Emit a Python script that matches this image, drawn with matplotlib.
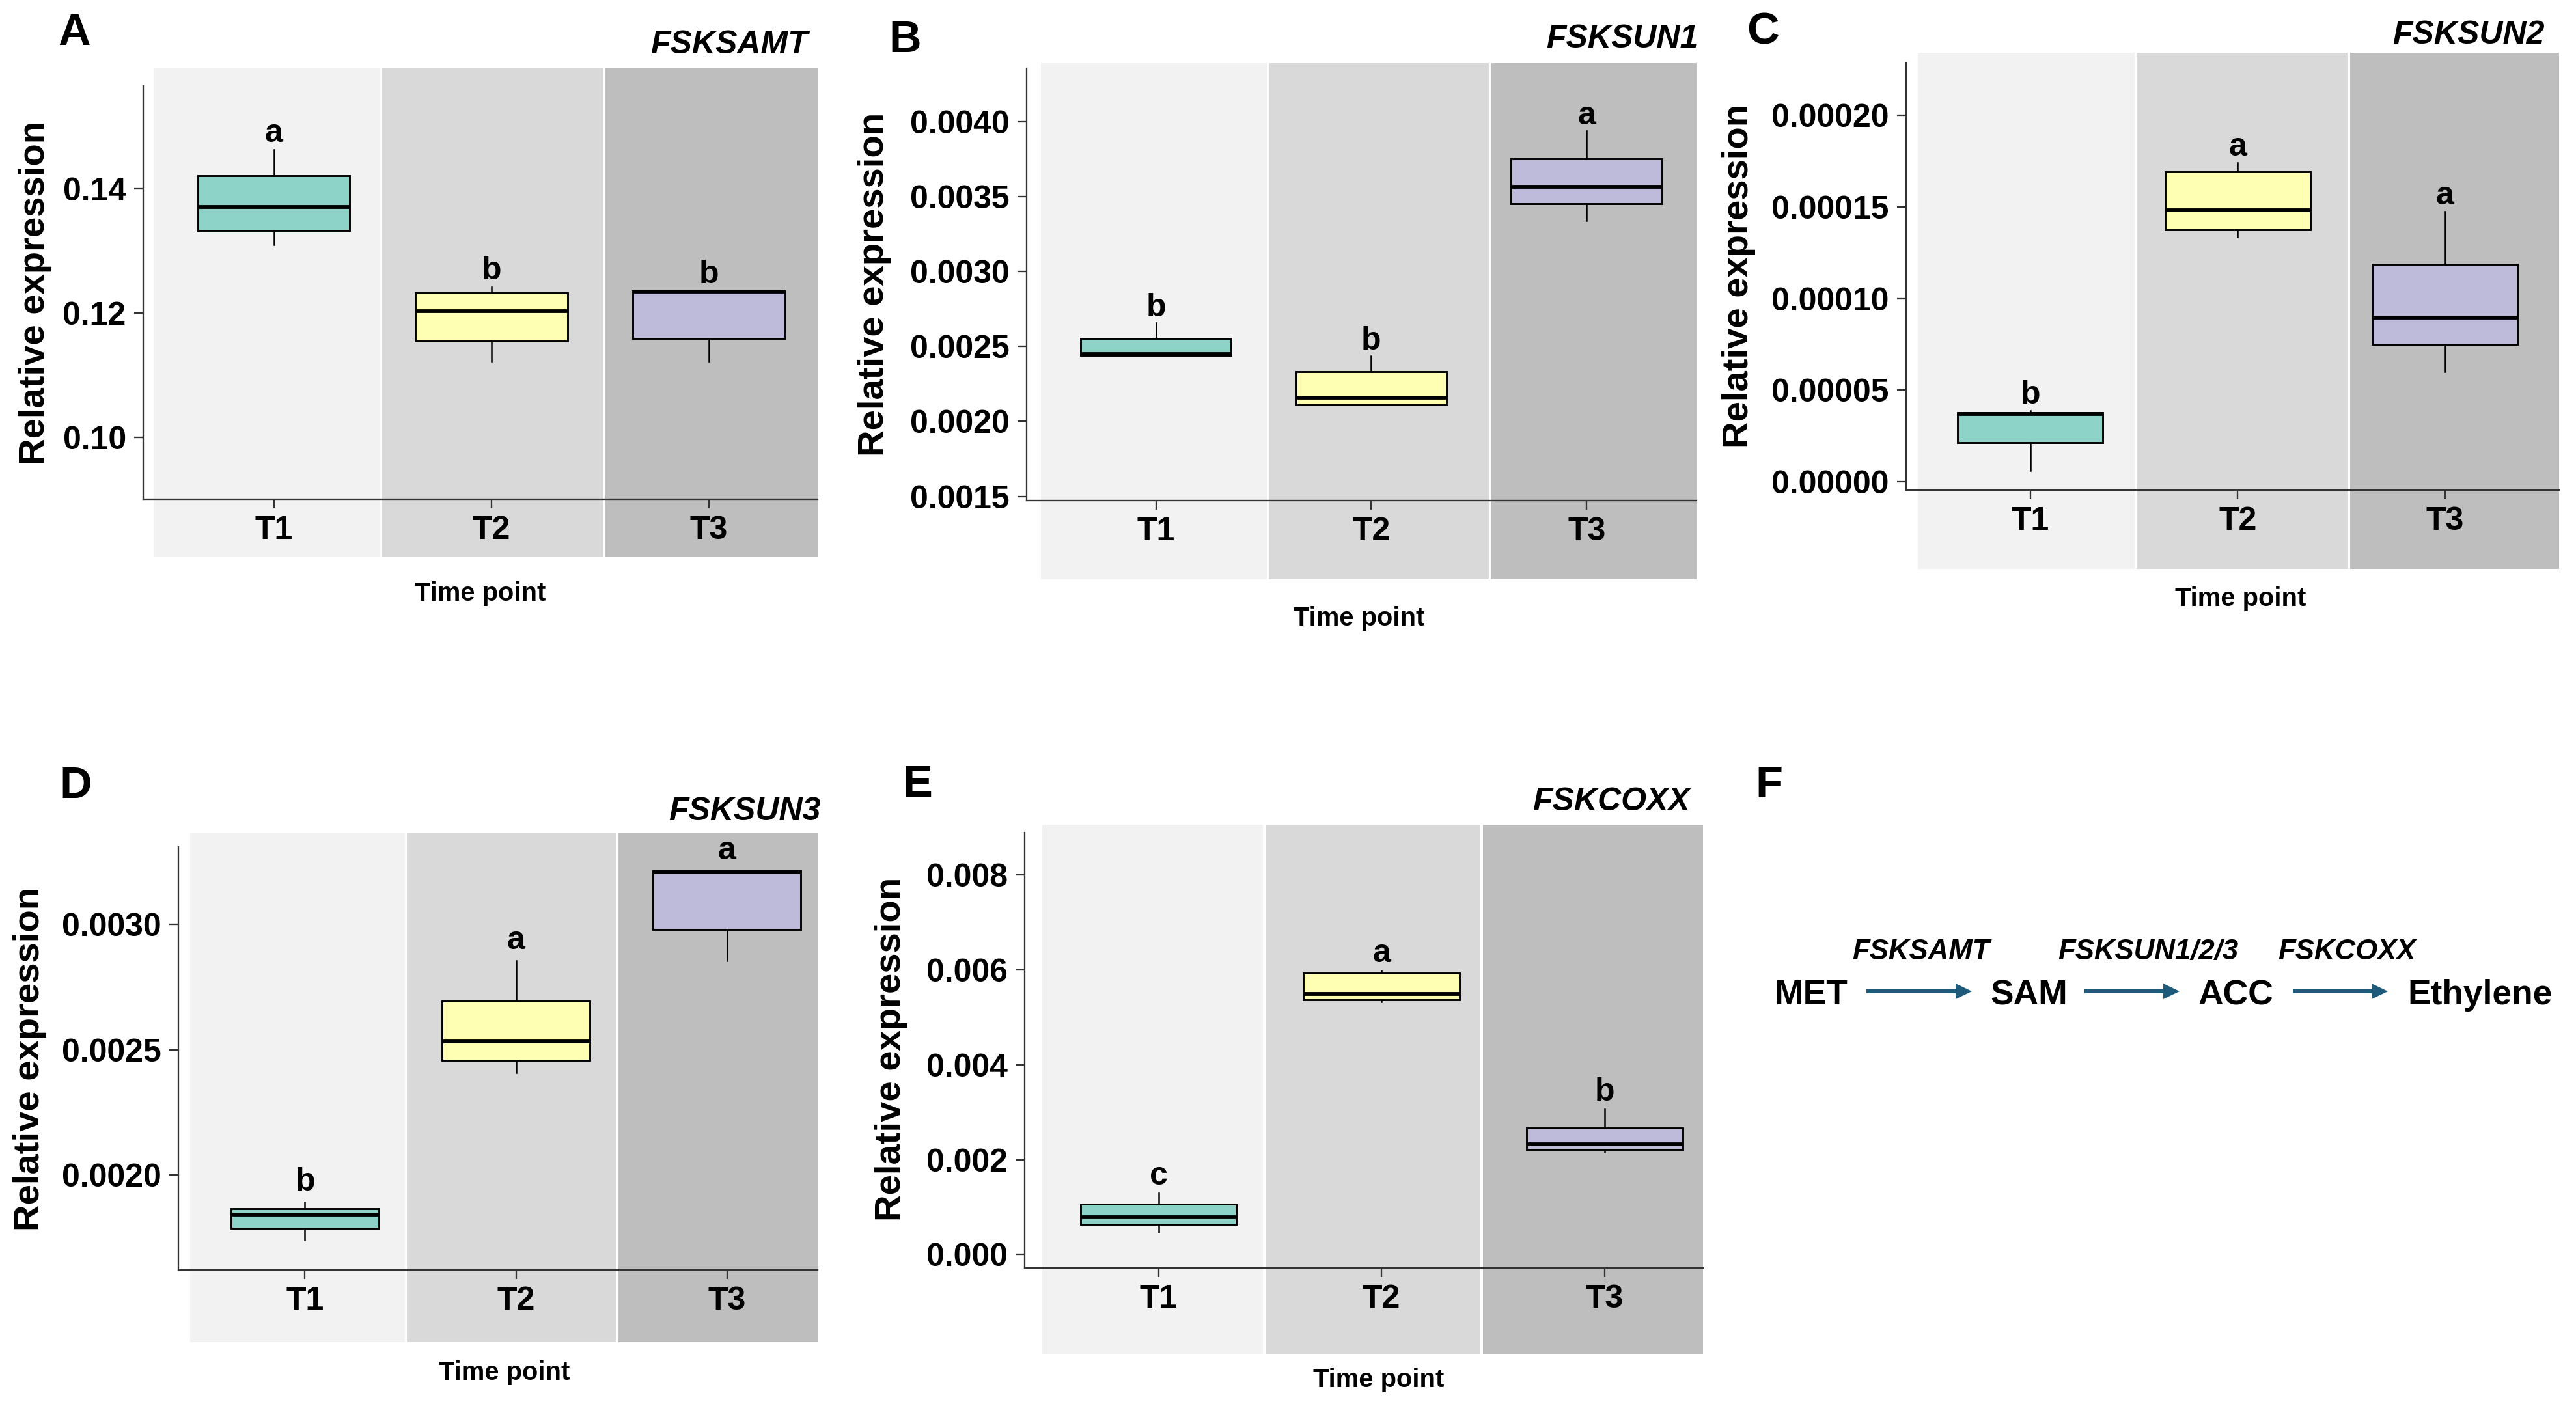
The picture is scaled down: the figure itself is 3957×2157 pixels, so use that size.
import matplotlib
matplotlib.use('Agg')
import matplotlib.pyplot as plt
from matplotlib.patches import Rectangle, FancyArrow
from matplotlib import transforms
import matplotlib.ticker as mticker

plt.rcParams['font.family'] = ['Liberation Sans', 'DejaVu Sans']
plt.rcParams['font.weight'] = 'bold'

# ---------------- data ----------------
timepoints = ['T1', 'T2', 'T3']
genes = ['FSKSAMT', 'FSKSUN1', 'FSKSUN2', 'FSKSUN3', 'FSKCOXX']
panel_letters = ['A', 'B', 'C', 'D', 'E']

# box statistics (lower whisker, Q1, median, Q3, upper whisker) for T1, T2, T3
samt_whislo = [0.1309, 0.1122, 0.1122]
samt_q1 = [0.1332, 0.1154, 0.1159]
samt_med = [0.1370, 0.1203, 0.1234]
samt_q3 = [0.1420, 0.1232, 0.1235]
samt_whishi = [0.1462, 0.1241, 0.1235]
samt_letters = ['a', 'b', 'b']

sun1_whislo = [0.002442, 0.002110, 0.003338]
sun1_q1 = [0.002442, 0.002110, 0.003454]
sun1_med = [0.002448, 0.002157, 0.003565]
sun1_q3 = [0.002553, 0.002331, 0.003753]
sun1_whishi = [0.002656, 0.002434, 0.003936]
sun1_letters = ['b', 'b', 'a']

sun2_whislo = [0.0000063, 0.0001337, 0.0000602]
sun2_q1 = [0.0000213, 0.0001373, 0.0000749]
sun2_med = [0.0000369, 0.0001482, 0.0000896]
sun2_q3 = [0.0000376, 0.0001692, 0.0001188]
sun2_whishi = [0.0000387, 0.0001740, 0.0001473]
sun2_letters = ['b', 'a', 'a']

sun3_whislo = [0.001742, 0.002408, 0.002855]
sun3_q1 = [0.001788, 0.002457, 0.002978]
sun3_med = [0.001842, 0.002533, 0.003208]
sun3_q3 = [0.001867, 0.002692, 0.003212]
sun3_whishi = [0.001892, 0.002853, 0.003212]
sun3_letters = ['b', 'a', 'a']

coxx_whislo = [0.000476, 0.005330, 0.002159]
coxx_q1 = [0.000634, 0.005374, 0.002220]
coxx_med = [0.000793, 0.005498, 0.002317]
coxx_q3 = [0.001057, 0.005930, 0.002670]
coxx_whishi = [0.001295, 0.005991, 0.003066]
coxx_letters = ['c', 'a', 'b']

samt_yticks = [0.10, 0.12, 0.14]
sun1_yticks = [0.0015, 0.0020, 0.0025, 0.0030, 0.0035, 0.0040]
sun2_yticks = [0.00000, 0.00005, 0.00010, 0.00015, 0.00020]
sun3_yticks = [0.0020, 0.0025, 0.0030]
coxx_yticks = [0.000, 0.002, 0.004, 0.006, 0.008]

pathway_compounds = ['MET', 'SAM', 'ACC', 'Ethylene']
pathway_enzymes = ['FSKSAMT', 'FSKSUN1/2/3', 'FSKCOXX']

# ---------------- style / layout ----------------
W, H = 3957, 2157
DPI = 300
box_colors = ['#8DD3C7', '#FFFFB3', '#BEBADA']
strip_colors = ['#F2F2F2', '#D9D9D9', '#BEBEBE']
arrow_color = '#1E5B7B'
spine_color = '#333333'

panels = [
    dict(stats=(samt_whislo, samt_q1, samt_med, samt_q3, samt_whishi), letters=samt_letters,
         yticks=samt_yticks, fmt='%.2f', ylim=(0.0900, 0.1565),
         box=(220, 1256, 132, 767), xmax=3.50, strip=(104, 856), gap=2.9,
         edges=[(0.448, 1.489), (1.498, 2.514), (2.522, None)],
         ylab=(54, 450), title=(1241, 82), plet=(89, 69), xlab=(738, 923)),
    dict(stats=(sun1_whislo, sun1_q1, sun1_med, sun1_q3, sun1_whishi), letters=sun1_letters,
         yticks=sun1_yticks, fmt='%.4f', ylim=(0.001474, 0.004355),
         box=(1577, 2606, 105, 768.5), xmax=3.51, strip=(97, 890), gap=2.4,
         edges=[(0.467, 1.516), (1.523, 2.545), (2.554, None)],
         ylab=(1343, 437), title=(2609, 73), plet=(1365, 80), xlab=(2088, 961)),
    dict(stats=(sun2_whislo, sun2_q1, sun2_med, sun2_q3, sun2_whishi), letters=sun2_letters,
         yticks=sun2_yticks, fmt='%.5f', ylim=(-0.0000043, 0.0002283),
         box=(2927.5, 3931, 97, 752.5), xmax=3.55, strip=(81, 874), gap=2.6,
         edges=[(0.457, 1.502), (1.513, 2.532), (2.542, None)],
         ylab=(2671, 424), title=(3908, 67), plet=(2683, 67), xlab=(3442, 931)),
    dict(stats=(sun3_whislo, sun3_q1, sun3_med, sun3_q3, sun3_whishi), letters=sun3_letters,
         yticks=sun3_yticks, fmt='%.4f', ylim=(0.001622, 0.003308),
         box=(274, 1256, 1301, 1951), xmax=3.43, strip=(1280, 2062), gap=4.3,
         edges=[(0.456, 1.474), (1.483, 2.476), (2.485, None)],
         ylab=(46, 1627), title=(1260, 1260), plet=(91, 1226), xlab=(775, 2120)),
    dict(stats=(coxx_whislo, coxx_q1, coxx_med, coxx_q3, coxx_whishi), letters=coxx_letters,
         yticks=coxx_yticks, fmt='%.3f', ylim=(-0.000282, 0.0089),
         box=(1574, 2615.5, 1278.5, 1948), xmax=3.44, strip=(1267, 2080), gap=3.1,
         edges=[(0.478, 1.468), (1.480, 2.443), (2.454, None)],
         ylab=(1369, 1612), title=(2596, 1245), plet=(1386, 1224), xlab=(2118, 2131)),
]

fig = plt.figure(figsize=(W / DPI, H / DPI), dpi=DPI)
fig.patch.set_facecolor('white')


def fx(x):
    return x / W


def fy(y):
    return 1 - y / H


positions = [1, 2, 3]
for i, p in enumerate(panels):
    l, r, t, b = p['box']
    ax = fig.add_axes([fx(l), fy(b), (r - l) / W, (b - t) / H])
    ax.patch.set_visible(False)
    ax.set_xlim(0.4, p['xmax'])
    ax.set_ylim(*p['ylim'])

    # background strips
    trans = transforms.blended_transform_factory(ax.transData, fig.transFigure)
    st, sb = p['strip']
    for (x0, x1), c in zip(p['edges'], strip_colors):
        if x1 is None:
            x1 = p['xmax']
        ax.add_patch(Rectangle((x0, fy(sb)), x1 - x0, fy(st) - fy(sb), transform=trans,
                               facecolor=c, edgecolor='none', clip_on=False, zorder=0))

    wl, q1, med, q3, wh = p['stats']
    stats = [dict(whislo=wl[k], q1=q1[k], med=med[k], q3=q3[k], whishi=wh[k], label=timepoints[k])
             for k in range(3)]
    bp = ax.bxp(stats, positions=positions, widths=0.7, patch_artist=True,
                showfliers=False, showcaps=False,
                boxprops=dict(edgecolor='black', linewidth=0.7),
                medianprops=dict(color='black', linewidth=1.4, solid_capstyle='butt'),
                whiskerprops=dict(color='black', linewidth=0.6))
    for patch, c in zip(bp['boxes'], box_colors):
        patch.set_facecolor(c)
        patch.set_zorder(2)
    for k in range(3):
        ax.annotate(p['letters'][k], xy=(positions[k], wh[k]), xytext=(0, p['gap']),
                    textcoords='offset points', ha='center', va='baseline',
                    fontsize=12, fontweight='bold', zorder=5)

    ax.set_xticks(positions)
    ax.set_xticklabels(timepoints)
    ax.set_yticks(p['yticks'])
    ax.yaxis.set_major_formatter(mticker.FormatStrFormatter(p['fmt']))
    ax.tick_params(axis='both', direction='out', length=3.4, width=0.55, color=spine_color,
                   labelsize=12, labelcolor='black')
    ax.tick_params(axis='y', pad=2.9)
    ax.tick_params(axis='x', pad=2.6)
    for lab in ax.get_xticklabels() + ax.get_yticklabels():
        lab.set_fontweight('bold')
    for s in ['top', 'right']:
        ax.spines[s].set_visible(False)
    for s in ['left', 'bottom']:
        ax.spines[s].set_color(spine_color)
        ax.spines[s].set_linewidth(0.55)

    # texts
    fig.text(fx(p['ylab'][0]), fy(p['ylab'][1]), 'Relative expression', rotation=90,
             ha='center', va='center', fontsize=13.5, fontweight='bold')
    fig.text(fx(p['xlab'][0]), fy(p['xlab'][1]), 'Time point', ha='center', va='baseline',
             fontsize=9.6, fontweight='bold')
    fig.text(fx(p['title'][0]), fy(p['title'][1]), genes[i], ha='right', va='baseline',
             fontsize=12, fontweight='bold', style='italic')
    fig.text(fx(p['plet'][0]), fy(p['plet'][1]), panel_letters[i], ha='left', va='baseline',
             fontsize=16.5, fontweight='bold')

# ---------------- panel F: pathway ----------------
axf = fig.add_axes([0, 0, 1, 1])
axf.set_xlim(0, W)
axf.set_ylim(H, 0)
axf.axis('off')
axf.patch.set_visible(False)

axf.text(2696, 1225, 'F', ha='left', va='baseline', fontsize=16.5, fontweight='bold')
compound_x = [2725, 3057, 3377, 3698]
for name, x in zip(pathway_compounds, compound_x):
    axf.text(x, 1543, name, ha='left', va='baseline', fontsize=12.8, fontweight='bold')
arrow_spans = [(2867, 3029), (3202, 3348), (3522, 3668)]
enzyme_x = [2951, 3300, 3605]
for (x0, x1), ex, enz in zip(arrow_spans, enzyme_x, pathway_enzymes):
    axf.add_patch(FancyArrow(x0, 1523, x1 - x0, 0, width=6, head_width=24, head_length=25,
                             length_includes_head=True, color=arrow_color, linewidth=0))
    axf.text(ex, 1474, enz, ha='center', va='baseline', fontsize=10.5, fontweight='bold',
             style='italic')

fig.savefig('out.png', dpi=DPI, facecolor='white')
